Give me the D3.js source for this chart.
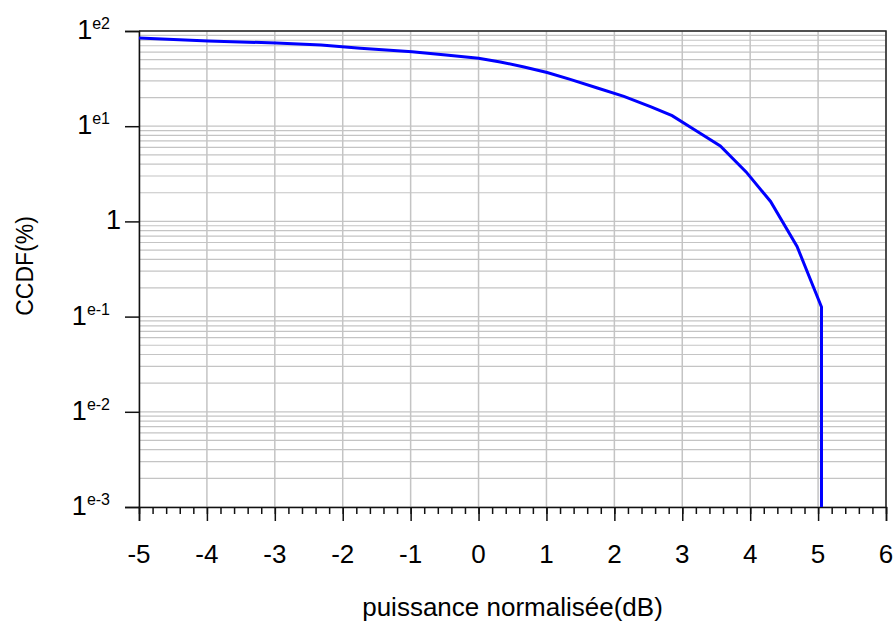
<!DOCTYPE html>
<html>
<head>
<meta charset="utf-8">
<script src="https://cdn.jsdelivr.net/npm/d3@7"></script>
<style>
  body { margin: 0; background: #fff; }
  svg text { font-family: "Liberation Sans", Arial, sans-serif; }
</style>
</head>
<body>
<div id="chart"></div>
<script>
// CCDF curve: power in dB, CCDF in %
const powerDb = [-5.00, -3.98, -2.98, -2.32, -1.74, -0.98, -0.48, 0.00, 0.32, 0.67, 1.01, 1.35, 1.75, 2.14, 2.54, 2.85, 3.21, 3.56, 3.94, 4.30, 4.69, 5.05, 5.05];
const ccdfPct = [84.4, 78.5, 74.8, 71.3, 65.8, 60.7, 56.0, 51.7, 47.3, 41.9, 36.6, 31.0, 25.2, 20.6, 16.0, 12.9, 8.9, 6.2, 3.31, 1.62, 0.546, 0.126, 0.001];

const xTicks = [-5, -4, -3, -2, -1, 0, 1, 2, 3, 4, 5, 6];
const yExponents = [2, 1, 0, -1, -2, -3];

const width = 894, height = 622;
const margin = { left: 139, right: 8, top: 31, bottom: 115 };

const svg = d3.select("#chart").append("svg")
    .attr("width", width)
    .attr("height", height);

const x = d3.scaleLinear().domain([-5, 6]).range([margin.left, width - margin.right]);
const y = d3.scaleLog().domain([0.001, 100]).range([height - margin.bottom, margin.top]);

// grid lines
const minorY = [];
for (let e = -3; e < 2; e++) {
    for (let m = 1; m <= 9; m++) minorY.push(m * Math.pow(10, e));
}
minorY.push(100);

svg.append("g").selectAll("line")
    .data(minorY)
    .join("line")
    .attr("x1", x(-5)).attr("x2", x(6))
    .attr("y1", d => y(d)).attr("y2", d => y(d))
    .attr("stroke", "#c4c4c4")
    .attr("stroke-width", 1.2);

svg.append("g").selectAll("line")
    .data(xTicks)
    .join("line")
    .attr("x1", d => x(d)).attr("x2", d => x(d))
    .attr("y1", y(100)).attr("y2", y(0.001))
    .attr("stroke", "#c4c4c4")
    .attr("stroke-width", 1.5);

// frame (top and right)
svg.append("path")
    .attr("d", `M${x(-5)},${y(100)}H${x(6)}V${y(0.001)}`)
    .attr("fill", "none")
    .attr("stroke", "#222")
    .attr("stroke-width", 1.5);

// x axis: major and minor ticks
svg.append("g")
    .attr("transform", `translate(0,${y(0.001)})`)
    .call(d3.axisBottom(x).tickValues(xTicks).tickSize(14).tickFormat(""));

svg.append("g")
    .attr("transform", `translate(0,${y(0.001)})`)
    .call(d3.axisBottom(x).tickValues(d3.range(-50, 61, 2).map(d => d / 10)).tickSize(7).tickFormat(""))
    .call(g => g.select(".domain").remove());

svg.selectAll(".domain, .tick line")
    .attr("stroke", "#111")
    .attr("stroke-width", 1.5);

svg.append("g").selectAll("text")
    .data(xTicks)
    .join("text")
    .attr("x", d => x(d))
    .attr("y", 563)
    .attr("text-anchor", "middle")
    .style("font-size", "26px")
    .text(d => d);

// y axis
svg.append("g")
    .attr("transform", `translate(${x(-5)},0)`)
    .call(d3.axisLeft(y).tickValues(yExponents.map(e => Math.pow(10, e))).tickSize(14).tickFormat(""))
    .call(g => g.selectAll(".domain, .tick line").attr("stroke", "#111").attr("stroke-width", 1.5));

const yLabels = svg.append("g").selectAll("text")
    .data(yExponents)
    .join("text")
    .attr("x", d => d === 0 ? 121 : 110)
    .attr("y", d => y(Math.pow(10, d)) + 8)
    .attr("text-anchor", "end")
    .style("font-size", "27px");

yLabels.append("tspan").text("1");
yLabels.filter(d => d !== 0).append("tspan")
    .attr("dy", -10)
    .style("font-size", "16px")
    .text(d => "e" + d);

// curve
svg.append("path")
    .datum(powerDb.map((p, i) => [p, ccdfPct[i]]))
    .attr("fill", "none")
    .attr("stroke", "#0000ff")
    .attr("stroke-width", 3)
    .attr("d", d3.line().x(d => x(d[0])).y(d => y(d[1])));

// axis titles
svg.append("text")
    .attr("x", (x(-5) + x(6)) / 2)
    .attr("y", 616)
    .attr("text-anchor", "middle")
    .style("font-size", "26px")
    .text("puissance normalisée(dB)");

svg.append("text")
    .attr("transform", `translate(33,${(y(100) + y(0.001)) / 2 - 3}) rotate(-90)`)
    .attr("text-anchor", "middle")
    .style("font-size", "23px")
    .text("CCDF(%)");
</script>
</body>
</html>
